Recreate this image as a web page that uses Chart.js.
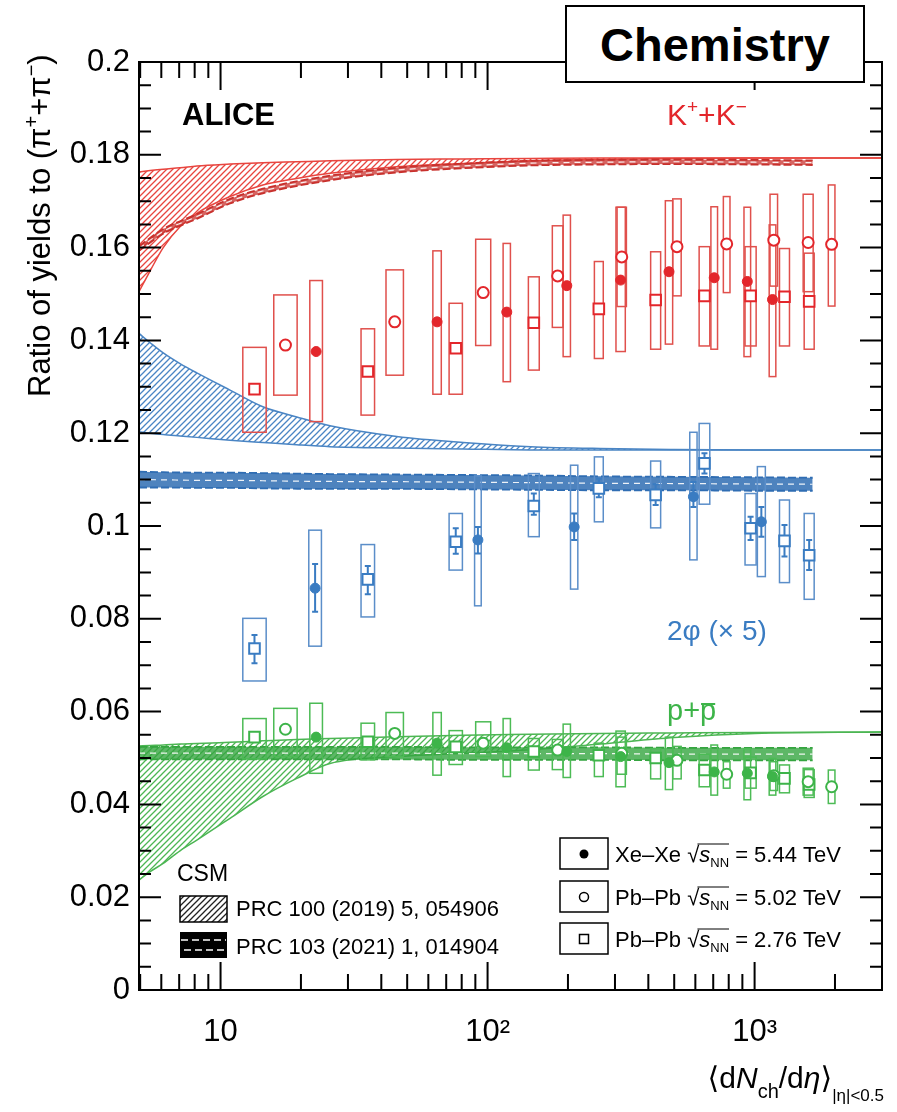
<!DOCTYPE html>
<html>
<head>
<meta charset="utf-8">
<script src="https://cdn.jsdelivr.net/npm/chart.js@4.4.1/dist/chart.umd.min.js"></script>
<style>
  html, body { margin: 0; padding: 0; background: #fff; }
  #wrap { position: relative; width: 897px; height: 1112px; }
  #chem {
    position: absolute; left: 565px; top: 5px; width: 300px; height: 78px;
    box-sizing: border-box; border: 2px solid #000; background: #fff;
    font: bold 47px "Liberation Sans", Arial, sans-serif; color: #000;
    display: flex; align-items: center; justify-content: center;
  }
</style>
</head>
<body>
<div id="wrap">
  <canvas id="c" width="897" height="1112"></canvas>
  <div id="chem">Chemistry</div>
</div>
<script>
// <dNch/deta> of the centrality classes
const xXeXe = [22.8, 64.7, 118, 198, 315, 478, 706, 939, 1167];
const xPbPb502 = [17.5, 44.9, 96.3, 183, 318, 512, 786, 1180, 1587, 1943];
const xPbPb276 = [13.4, 35.6, 76, 149, 261, 426, 649, 966, 1294, 1601];
const xXeXePhi = [22.6, 92, 211, 590, 1060];

// relative uncertainty on <dNch/deta> (%), gives the box widths
const dxXeXe = [5.6, 3.7, 3.2, 3.2, 4.1, 3.2, 2.9, 2.9, 2.9];
const dxPbPb502 = [10.6, 7.8, 6.7, 4.7, 4.1, 3.7, 2.9, 3.3, 4.4, 2.9];
const dxPbPb276 = [10.6, 6.0, 5.9, 4.8, 3.9, 4.4, 4.7, 4.9, 4.4, 4.4];
const dxXeXePhi = [5.6, 2.9, 3.2, 3.2, 3.5];

// K/pi
const kXeXe = [0.1376, 0.1440, 0.1461, 0.1518, 0.1530, 0.1548, 0.1535, 0.1527, 0.1488];
const kXeXeLo = [0.1225, 0.1284, 0.1311, 0.1365, 0.1376, 0.1392, 0.1381, 0.1365, 0.1322];
const kXeXeHi = [0.1529, 0.1593, 0.1609, 0.1670, 0.1687, 0.1701, 0.1688, 0.1687, 0.1649];
const kPb502 = [0.1390, 0.1440, 0.1503, 0.1539, 0.1580, 0.1602, 0.1608, 0.1616, 0.1611, 0.1607];
const kPb502Lo = [0.1282, 0.1325, 0.1389, 0.1428, 0.1473, 0.1496, 0.1503, 0.1517, 0.1505, 0.1474];
const kPb502Hi = [0.1498, 0.1552, 0.1618, 0.1647, 0.1687, 0.1705, 0.1710, 0.1715, 0.1715, 0.1735];
const kPb276 = [0.1295, 0.1333, 0.1383, 0.1438, 0.1468, 0.1487, 0.1496, 0.1496, 0.1494, 0.1484];
const kPb276Lo = [0.1202, 0.1239, 0.1284, 0.1336, 0.1361, 0.1381, 0.1388, 0.1388, 0.1388, 0.1381];
const kPb276Hi = [0.1385, 0.1425, 0.1480, 0.1537, 0.1570, 0.1591, 0.1602, 0.1602, 0.1598, 0.1588];

// 2phi/pi x 5
const phiXeXe = [0.0866, 0.0970, 0.0998, 0.1063, 0.1009];
const phiXeXeStatLo = [0.0815, 0.0941, 0.0970, 0.1041, 0.0977];
const phiXeXeStatHi = [0.0918, 0.0998, 0.1027, 0.1095, 0.1041];
const phiXeXeLo = [0.0741, 0.0828, 0.0864, 0.0927, 0.0891];
const phiXeXeHi = [0.0991, 0.1108, 0.1131, 0.1202, 0.1128];
const phiPb276 = [0.0736, 0.0885, 0.0966, 0.1043, 0.1081, 0.1067, 0.1135, 0.0995, 0.0968, 0.0937];
const phiPb276StatLo = [0.0704, 0.0853, 0.0940, 0.1024, 0.1062, 0.1045, 0.1113, 0.0970, 0.0934, 0.0905];
const phiPb276StatHi = [0.0765, 0.0914, 0.0995, 0.1070, 0.1102, 0.1090, 0.1157, 0.1020, 0.1002, 0.0970];
const phiPb276Lo = [0.0666, 0.0804, 0.0905, 0.0977, 0.1009, 0.0996, 0.1047, 0.0916, 0.0878, 0.0842];
const phiPb276Hi = [0.0801, 0.0960, 0.1027, 0.1113, 0.1149, 0.1140, 0.1221, 0.1070, 0.1056, 0.1027];

// p/pi
const pXeXe = [0.0545, 0.0532, 0.0522, 0.0514, 0.0503, 0.0490, 0.0470, 0.0467, 0.0460];
const pXeXeLo = [0.0467, 0.0463, 0.0460, 0.0458, 0.0438, 0.0432, 0.0420, 0.0410, 0.0420];
const pXeXeHi = [0.0618, 0.0598, 0.0585, 0.0573, 0.0558, 0.0545, 0.0528, 0.0520, 0.0499];
const pPb502 = [0.0562, 0.0553, 0.0532, 0.0517, 0.0510, 0.0495, 0.0465, 0.0462, 0.0449, 0.0438];
const pPb502Lo = [0.0503, 0.0503, 0.0503, 0.0475, 0.0465, 0.0455, 0.0435, 0.0430, 0.0420, 0.0402];
const pPb502Hi = [0.0607, 0.0598, 0.0578, 0.0540, 0.0545, 0.0525, 0.0492, 0.0492, 0.0478, 0.0474];
const pPb276 = [0.0545, 0.0535, 0.0524, 0.0514, 0.0506, 0.0500, 0.0474, 0.0468, 0.0456, 0.0443];
const pPb276Lo = [0.0498, 0.0496, 0.0486, 0.0474, 0.0460, 0.0455, 0.0438, 0.0435, 0.0425, 0.0415];
const pPb276Hi = [0.0585, 0.0575, 0.0559, 0.0542, 0.0532, 0.0520, 0.0508, 0.0502, 0.0485, 0.0475];

// CSM, PRC 100 (2019) 5, 054906 (hatched bands)
const csmX = [4.95, 5.45, 6.1, 7.05, 8.15, 10.85, 14.4, 19.3, 25.7, 45.7, 81, 145, 264, 500, 1000, 3000];
const csmKUp = [0.1763, 0.1766, 0.1769, 0.1772, 0.1776, 0.1780, 0.1783, 0.1785, 0.1787, 0.1790, 0.1791, 0.1792, 0.1793, 0.1793, 0.1793, 0.1793];
const csmKLo = [0.1505, 0.1550, 0.1600, 0.1645, 0.1674, 0.1710, 0.1735, 0.1749, 0.1760, 0.1774, 0.1781, 0.1787, 0.1790, 0.1792, 0.1793, 0.1793];
const csmPhiUp = [0.1415, 0.1395, 0.1373, 0.1350, 0.1330, 0.1293, 0.1257, 0.1235, 0.1216, 0.1193, 0.1180, 0.1171, 0.1167, 0.1165, 0.1164, 0.1164];
const csmPhiLo = [0.1203, 0.1200, 0.1197, 0.1194, 0.1191, 0.1185, 0.1180, 0.1175, 0.1171, 0.1168, 0.1166, 0.1164, 0.1164, 0.1164, 0.1164, 0.1164];
const csmPUp = [0.0526, 0.0527, 0.0528, 0.0530, 0.0531, 0.0534, 0.0537, 0.0540, 0.0542, 0.0546, 0.0549, 0.0551, 0.0553, 0.0554, 0.0555, 0.0556];
const csmPLo = [0.0237, 0.0255, 0.0273, 0.0300, 0.0323, 0.0370, 0.0417, 0.0456, 0.0488, 0.0503, 0.0510, 0.0518, 0.0530, 0.0544, 0.0553, 0.0556];

// CSM, PRC 103 (2021) 1, 014904 (dashed bands)
const csm2X = [4.95, 6.1, 8.15, 10.85, 14.4, 25.7, 45.7, 81, 145, 264, 500, 1000, 1650];
const csm2KUp = [0.1603, 0.1640, 0.1672, 0.1705, 0.1727, 0.1755, 0.1772, 0.1781, 0.1787, 0.1789, 0.1790, 0.1789, 0.1788];
const csm2KLo = [0.1593, 0.1630, 0.1662, 0.1695, 0.1717, 0.1745, 0.1762, 0.1771, 0.1777, 0.1779, 0.1780, 0.1779, 0.1778];
const csm2PhiUp = [0.1117, 0.1116, 0.1115, 0.1115, 0.1114, 0.1112, 0.1111, 0.1110, 0.1109, 0.1107, 0.1106, 0.1105, 0.1104];
const csm2PhiLo = [0.1083, 0.1083, 0.1082, 0.1082, 0.1081, 0.1080, 0.1080, 0.1079, 0.1078, 0.1077, 0.1077, 0.1076, 0.1076];
const csm2PUp = [0.0524, 0.0524, 0.0524, 0.0524, 0.0524, 0.0524, 0.0524, 0.0523, 0.0523, 0.0523, 0.0522, 0.0522, 0.0522];
const csm2PLo = [0.0497, 0.0497, 0.0497, 0.0497, 0.0497, 0.0497, 0.0497, 0.0496, 0.0496, 0.0496, 0.0495, 0.0495, 0.0495];

// axis ticks
const xTickValues = [10, 100, 1000];
const xTickLabels = ['10', '10\u00b2', '10\u00b3'];
const legendSystems = ['Xe\u2013Xe', 'Pb\u2013Pb', 'Pb\u2013Pb'];
const legendEnergies = ['5.44 TeV', '5.02 TeV', '2.76 TeV'];

const FONT = "'Liberation Sans', Arial, 'DejaVu Sans', sans-serif";
const RED = '#e3262b', BLUE = '#3a7cc2', GREEN = '#3db449';

Chart.defaults.font.family = FONT;
Chart.defaults.color = '#000';

function pts(xs, ys) {
  return xs.map((x, i) => ({ x: x, y: ys[i] }));
}

function hatch(color) {
  const c = document.createElement('canvas');
  c.width = 6; c.height = 6;
  const g = c.getContext('2d');
  g.strokeStyle = color;
  g.lineWidth = 1.3;
  g.beginPath();
  g.moveTo(0, 6); g.lineTo(6, 0);
  g.moveTo(-1, 1); g.lineTo(1, -1);
  g.moveTo(5, 7); g.lineTo(7, 5);
  g.stroke();
  return g.createPattern(c, 'repeat');
}

function hatchBand(xs, up, lo, color) {
  return [
    { data: pts(xs, up), borderColor: color, borderWidth: 1.5, pointRadius: 0, fill: false,
      cubicInterpolationMode: 'monotone', order: 10 },
    { data: pts(xs, lo), borderColor: color, borderWidth: 1.5, pointRadius: 0, fill: '-1',
      backgroundColor: hatch(color), cubicInterpolationMode: 'monotone', order: 10 }
  ];
}

function dashBand(xs, up, lo, color, fillColor) {
  const mid = up.map((u, i) => (u + lo[i]) / 2);
  return [
    { data: pts(xs, up), borderColor: color, borderWidth: 1.8, borderDash: [8, 3], pointRadius: 0,
      fill: false, cubicInterpolationMode: 'monotone', order: 9 },
    { data: pts(xs, lo), borderColor: color, borderWidth: 1.8, borderDash: [8, 3], pointRadius: 0,
      fill: '-1', backgroundColor: fillColor, cubicInterpolationMode: 'monotone', order: 9 },
    { data: pts(xs, mid), borderColor: 'rgba(255,255,255,0.9)', borderWidth: 1.2, borderDash: [6, 5],
      pointRadius: 0, fill: false, cubicInterpolationMode: 'monotone', order: 8 }
  ];
}

function markers(xs, ys, color, boxColor, kind, lo, hi, dx, statLo, statHi) {
  return {
    data: pts(xs, ys), showLine: false, order: 0, isMarker: true,
    pointStyle: kind === 'square' ? 'rect' : 'circle',
    pointRadius: kind === 'square' ? 7.5 : (kind === 'open' ? 5.5 : 5),
    pointBorderWidth: kind === 'filled' ? 1 : 2,
    pointBackgroundColor: kind === 'filled' ? color : '#fff',
    pointBorderColor: color,
    pointHoverRadius: 0,
    sysLo: lo, sysHi: hi, dx: dx, statLo: statLo, statHi: statHi, boxColor: boxColor
  };
}

const datasets = [
  // measured points
  markers(xXeXe, kXeXe, RED, '#e0504c', 'filled', kXeXeLo, kXeXeHi, dxXeXe),
  markers(xPbPb502, kPb502, RED, '#e0504c', 'open', kPb502Lo, kPb502Hi, dxPbPb502),
  markers(xPbPb276, kPb276, RED, '#e0504c', 'square', kPb276Lo, kPb276Hi, dxPbPb276),
  markers(xXeXePhi, phiXeXe, BLUE, '#5b8ec9', 'filled', phiXeXeLo, phiXeXeHi, dxXeXePhi, phiXeXeStatLo, phiXeXeStatHi),
  markers(xPbPb276, phiPb276, BLUE, '#5b8ec9', 'square', phiPb276Lo, phiPb276Hi, dxPbPb276, phiPb276StatLo, phiPb276StatHi),
  markers(xXeXe, pXeXe, GREEN, '#4cbb55', 'filled', pXeXeLo, pXeXeHi, dxXeXe),
  markers(xPbPb502, pPb502, GREEN, '#4cbb55', 'open', pPb502Lo, pPb502Hi, dxPbPb502),
  markers(xPbPb276, pPb276, GREEN, '#4cbb55', 'square', pPb276Lo, pPb276Hi, dxPbPb276),
  // model curves
  ...dashBand(csm2X, csm2KUp, csm2KLo, '#c8302c', 'rgba(200,48,44,0.75)'),
  ...dashBand(csm2X, csm2PhiUp, csm2PhiLo, '#2f6db3', 'rgba(47,109,179,0.85)'),
  ...dashBand(csm2X, csm2PUp, csm2PLo, '#35a540', 'rgba(53,165,64,0.8)'),
  ...hatchBand(csmX, csmKUp, csmKLo, '#e8453f'),
  ...hatchBand(csmX, csmPhiUp, csmPhiLo, '#4a85c4'),
  ...hatchBand(csmX, csmPUp, csmPLo, '#4cb653')
];

function drawBoxes(chart) {
  const ctx = chart.ctx, xs = chart.scales.x, ys = chart.scales.y, a = chart.chartArea;
  ctx.save();
  ctx.beginPath();
  ctx.rect(a.left, a.top, a.right - a.left, a.bottom - a.top);
  ctx.clip();
  chart.data.datasets.forEach(ds => {
    if (!ds.sysLo) return;
    ds.data.forEach((p, i) => {
      const f = 1 + ds.dx[i] / 100;
      const xl = xs.getPixelForValue(p.x / f), xr = xs.getPixelForValue(p.x * f);
      const yt = ys.getPixelForValue(ds.sysHi[i]), yb = ys.getPixelForValue(ds.sysLo[i]);
      ctx.strokeStyle = ds.boxColor;
      ctx.lineWidth = 1.5;
      ctx.strokeRect(xl, yt, xr - xl, yb - yt);
      if (ds.statLo) {
        const xc = xs.getPixelForValue(p.x);
        const s1 = ys.getPixelForValue(ds.statHi[i]), s2 = ys.getPixelForValue(ds.statLo[i]);
        ctx.strokeStyle = ds.pointBorderColor;
        ctx.lineWidth = 2;
        ctx.beginPath();
        ctx.moveTo(xc, s1); ctx.lineTo(xc, s2);
        ctx.moveTo(xc - 3, s1); ctx.lineTo(xc + 3, s1);
        ctx.moveTo(xc - 3, s2); ctx.lineTo(xc + 3, s2);
        ctx.stroke();
      }
    });
  });
  ctx.restore();
}

function rich(ctx, parts, x, y) {
  let cx = x;
  parts.forEach(p => {
    ctx.font = (p[3] || '') + ' ' + p[1] + 'px ' + FONT;
    ctx.fillText(p[0], cx, y + (p[2] || 0));
    cx += ctx.measureText(p[0]).width;
  });
  return cx;
}

function richWidth(ctx, parts) {
  let w = 0;
  parts.forEach(p => {
    ctx.font = (p[3] || '') + ' ' + p[1] + 'px ' + FONT;
    w += ctx.measureText(p[0]).width;
  });
  return w;
}

const boxPlugin = {
  id: 'boxes',
  beforeDatasetsDraw(chart) { chart.$boxesDone = false; },
  beforeDatasetDraw(chart, args) {
    const ds = chart.data.datasets[args.index];
    if (!ds.isMarker || chart.$boxesDone) return;
    chart.$boxesDone = true;
    drawBoxes(chart);
  }
};

const framePlugin = {
  id: 'frame',
  afterDraw(chart) {
    const ctx = chart.ctx, a = chart.chartArea, xs = chart.scales.x, ys = chart.scales.y;
    ctx.save();
    ctx.strokeStyle = '#000';
    ctx.lineWidth = 2;
    ctx.strokeRect(a.left, a.top, a.right - a.left, a.bottom - a.top);

    // y ticks, both sides
    ctx.beginPath();
    for (let k = 0; k <= 40; k++) {
      const yp = ys.getPixelForValue(k * 0.005);
      const len = k % 4 === 0 ? 22 : 12;
      ctx.moveTo(a.left, yp); ctx.lineTo(a.left + len, yp);
      ctx.moveTo(a.right, yp); ctx.lineTo(a.right - len, yp);
    }
    // x ticks, top and bottom
    for (let e = 0; e <= 3; e++) {
      for (let m = 1; m <= 9; m++) {
        const v = m * Math.pow(10, e);
        if (v <= xs.min || v >= xs.max) continue;
        const xp = xs.getPixelForValue(v);
        const len = m === 1 ? 28 : 16;
        ctx.moveTo(xp, a.bottom); ctx.lineTo(xp, a.bottom - len);
        ctx.moveTo(xp, a.top); ctx.lineTo(xp, a.top + len);
      }
    }
    ctx.stroke();

    ctx.textBaseline = 'alphabetic';
    ctx.textAlign = 'left';

    // axis titles
    ctx.fillStyle = '#000';
    ctx.save();
    ctx.translate(50, 397);
    ctx.rotate(-Math.PI / 2);
    rich(ctx, [['Ratio of yields to (\u03c0', 31], ['+', 20, -12], ['+\u03c0', 31], ['\u2212', 20, -12], [')', 31]], 0, 0);
    ctx.restore();

    const xt = [['\u27e8d', 30], ['N', 30, 0, 'italic'], ['ch', 20, 10], ['/d', 30], ['\u03b7', 30, 0, 'italic'],
                ['\u27e9', 30], ['|\u03b7|<0.5', 17, 13]];
    rich(ctx, xt, 884 - richWidth(ctx, xt), 1088);

    // labels inside the frame
    ctx.font = 'bold 31px ' + FONT;
    ctx.fillText('ALICE', 182, 125);
    ctx.fillStyle = RED;
    rich(ctx, [['K', 30], ['+', 19, -12], ['+K', 30], ['\u2212', 19, -12]], 667, 125);
    ctx.fillStyle = BLUE;
    ctx.font = '28px ' + FONT;
    ctx.fillText('2\u03c6 (\u00d7 5)', 667, 640);
    ctx.fillStyle = GREEN;
    const pEnd = rich(ctx, [['p+', 29]], 667, 720);
    ctx.font = '29px ' + FONT;
    const pw = ctx.measureText('p').width;
    ctx.fillText('p', pEnd, 720);
    ctx.strokeStyle = GREEN;
    ctx.lineWidth = 2;
    ctx.beginPath(); ctx.moveTo(pEnd + 1, 704); ctx.lineTo(pEnd + pw - 1, 704); ctx.stroke();

    // CSM legend
    ctx.fillStyle = '#000';
    ctx.font = '23px ' + FONT;
    ctx.fillText('CSM', 177, 881);
    ctx.font = '22px ' + FONT;
    ctx.fillText('PRC 100 (2019) 5, 054906', 236, 916);
    ctx.fillText('PRC 103 (2021) 1, 014904', 236, 954);
    ctx.fillStyle = hatch('#222');
    ctx.fillRect(180, 896, 47, 26);
    ctx.strokeStyle = '#000';
    ctx.lineWidth = 1.5;
    ctx.strokeRect(180, 896, 47, 26);
    ctx.fillStyle = '#000';
    ctx.fillRect(180, 932, 47, 26);
    ctx.strokeStyle = '#fff';
    ctx.lineWidth = 1.5;
    ctx.setLineDash([7, 4]);
    ctx.beginPath();
    ctx.moveTo(181, 940); ctx.lineTo(226, 940);
    ctx.moveTo(184, 950); ctx.lineTo(226, 950);
    ctx.stroke();
    ctx.setLineDash([]);

    // data legend
    const rows = [854, 897, 939];
    rows.forEach((yc, i) => {
      ctx.strokeStyle = '#000';
      ctx.lineWidth = 1.5;
      ctx.strokeRect(560, yc - 16, 48, 31);
      ctx.fillStyle = '#000';
      ctx.lineWidth = 1.5;
      ctx.beginPath();
      if (i === 0) { ctx.arc(584, yc, 4.5, 0, 2 * Math.PI); ctx.fill(); }
      else if (i === 1) { ctx.arc(584, yc, 4.5, 0, 2 * Math.PI); ctx.stroke(); }
      else { ctx.strokeRect(579.5, yc - 4.5, 9, 9); }
      let cx = 615;
      const yb = yc + 8;
      ctx.font = '22px ' + FONT;
      ctx.fillText(legendSystems[i] + ' ', cx, yb);
      cx += ctx.measureText(legendSystems[i] + ' ').width;
      ctx.fillText('\u221a', cx, yb);
      const ov = cx + ctx.measureText('\u221a').width * 0.85;
      cx += ctx.measureText('\u221a').width;
      ctx.font = 'italic 22px ' + FONT;
      ctx.fillText('s', cx, yb);
      cx += ctx.measureText('s').width;
      ctx.font = '13px ' + FONT;
      ctx.fillText('NN', cx, yb + 5);
      cx += ctx.measureText('NN').width;
      ctx.lineWidth = 1;
      ctx.beginPath(); ctx.moveTo(ov, yb - 18); ctx.lineTo(cx, yb - 18); ctx.stroke();
      ctx.font = '22px ' + FONT;
      ctx.fillText(' = ' + legendEnergies[i], cx, yb);
    });
    ctx.restore();
  }
};

new Chart(document.getElementById('c'), {
  type: 'line',
  data: { datasets: datasets },
  options: {
    responsive: false,
    animation: false,
    devicePixelRatio: 1,
    layout: { padding: { top: 62, right: 15, left: 0, bottom: 0 } },
    plugins: { legend: { display: false }, tooltip: { enabled: false } },
    scales: {
      x: {
        type: 'logarithmic', min: 4.95, max: 3000,
        grid: { display: false, drawTicks: false }, border: { display: false },
        afterBuildTicks: s => { s.ticks = xTickValues.map(v => ({ value: v })); },
        afterFit: s => { s.height = 122; },
        ticks: {
          autoSkip: false, maxRotation: 0, padding: 24,
          font: { size: 31 },
          callback: v => xTickLabels[xTickValues.indexOf(v)]
        }
      },
      y: {
        min: 0, max: 0.2,
        grid: { display: false, drawTicks: false }, border: { display: false },
        afterFit: s => { s.width = 139; },
        ticks: {
          stepSize: 0.02, padding: 9,
          font: { size: 31 },
          callback: v => String(+v.toFixed(3))
        }
      }
    }
  },
  plugins: [boxPlugin, framePlugin]
});
</script>
</body>
</html>
